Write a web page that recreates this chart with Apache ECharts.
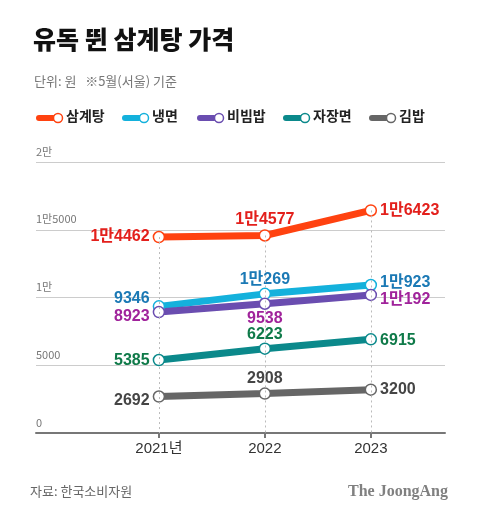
<!DOCTYPE html>
<html><head><meta charset="utf-8">
<script src="https://cdn.jsdelivr.net/npm/echarts@6/dist/echarts.min.js"></script>
<style>html,body{margin:0;padding:0;background:#fff}#c{width:480px;height:521px}</style>
</head><body><div id="c"></div>
<script>
const years = [2021, 2022, 2023];
const yearLabels = ['2021년', '2022', '2023'];
const seriesNames = ['삼계탕', '냉면', '비빔밥', '자장면', '김밥'];
const samgyetang = [14462, 14577, 16423];
const naengmyeon = [9346, 10269, 10923];
const bibimbap = [8923, 9538, 10192];
const jajangmyeon = [5385, 6223, 6915];
const gimbap = [2692, 2908, 3200];
const yTicks = [0, 5000, 10000, 15000, 20000];

const values = [samgyetang, naengmyeon, bibimbap, jajangmyeon, gimbap];
const lineColors = ['#ff4210', '#14b1dc', '#6a4db0', '#0b898b', '#666666'];
const labelColors = ['#e3201c', '#1b79b5', '#a0239b', '#0f7a49', '#454545'];
// label placement per series per year: [position, offsetY, distance]
const labelPos = [
  [['left',0,3],['top',0,2],['right',0,3]],
  [['left',-8,3],['top',0,0],['right',-2,3]],
  [['left',5,3],['bottom',0,1],['right',5,3]],
  [['left',1,3],['top',0,0],['right',1,3]],
  [['left',4,3],['top',0,1],['right',0,3]]
];
function fmt(v){
  const m = Math.floor(v/10000), r = v % 10000;
  if (m === 0) return String(r);
  return m + '만' + (r === 0 ? '' : r);
}
const font = '"Liberation Sans", "Noto Sans CJK KR", sans-serif';
const cjk = '"Noto Sans CJK KR", "Liberation Sans", sans-serif';

const series = seriesNames.map((name, i) => ({
  name, type: 'line', z: 3,
  data: years.map((y, j) => ({
    value: [y, values[i][j]],
    label: {position: labelPos[i][j][0], offset: [0, labelPos[i][j][1]], distance: labelPos[i][j][2]}
  })),
  lineStyle: {color: lineColors[i], width: 7},
  itemStyle: {color: '#fff', borderColor: lineColors[i], borderWidth: 1.5},
  symbol: 'circle', symbolSize: 11, showAllSymbol: true,
  label: {show: true, color: labelColors[i], fontSize: 16, fontWeight: 'bold', fontFamily: font,
    formatter: p => fmt(p.value[1])},
  emphasis: {disabled: true},
  animation: false
}));
series.push({
  type: 'line', data: [], z: 1, silent: true,
  markLine: {silent: true, symbol: 'none', animation: false, label: {show: false},
    lineStyle: {type: [2, 3], color: '#bbbbbb', width: 1},
    data: years.map((y, j) => [{coord: [y, samgyetang[j]]}, {coord: [y, 0]}])}
});

const legendX = [36, 122, 197, 283, 369];
const graphic = [
  {type: 'text', left: 33, top: 27, style: {text: '유독 뛴 삼계탕 가격', font: '900 25px ' + cjk, fill: '#111'}},
  {type: 'text', left: 34, top: 75, style: {text: '단위: 원   ※5월(서울) 기준', font: '13px ' + cjk, fill: '#777'}},
  {type: 'text', left: 30, top: 485, style: {text: '자료: 한국소비자원', font: '13px ' + cjk, fill: '#666'}},
  {type: 'text', right: 32, top: 484, style: {text: 'The JoongAng', font: 'bold 16px "Liberation Serif", "DejaVu Serif", serif', fill: '#808080'}}
];
seriesNames.forEach((name, i) => {
  const x = legendX[i];
  graphic.push({type: 'rect', shape: {x: x, y: 115, width: 20, height: 6, r: 3}, style: {fill: lineColors[i]}});
  graphic.push({type: 'circle', shape: {cx: x + 22, cy: 118, r: 4.5}, style: {fill: '#fff', stroke: lineColors[i], lineWidth: 1.5}});
  graphic.push({type: 'text', x: x + 30, y: 109, style: {text: name, font: 'bold 14px ' + cjk, fill: '#222'}});
});

const chart = echarts.init(document.getElementById('c'), null, {renderer: 'canvas'});
chart.setOption({
  animation: false,
  grid: {left: 36, right: 35, top: 162, bottom: 88, containLabel: false},
  xAxis: {
    type: 'value', min: 2019.84, max: 2023.7,
    splitLine: {show: false},
    axisLine: {show: true, lineStyle: {color: '#777', width: 2}},
    axisTick: {show: true, length: 5, lineStyle: {color: '#777', width: 2}, customValues: years},
    axisLabel: {customValues: years, color: '#333', fontSize: 15, fontFamily: font, margin: 8,
      formatter: v => yearLabels[years.indexOf(v)]}
  },
  yAxis: {
    type: 'value', min: 0, max: 20000, interval: 5000,
    axisLine: {show: false}, axisTick: {show: false},
    splitLine: {lineStyle: {color: '#cccccc', width: 1}},
    axisLabel: {inside: true, margin: 0, verticalAlign: 'bottom', align: 'left', padding: [0, 0, 5, 0],
      color: '#777', fontSize: 11, fontFamily: cjk,
      formatter: v => yTicks.indexOf(v) >= 0 ? fmt(v) : ''}
  },
  graphic,
  series
});
</script></body></html>
